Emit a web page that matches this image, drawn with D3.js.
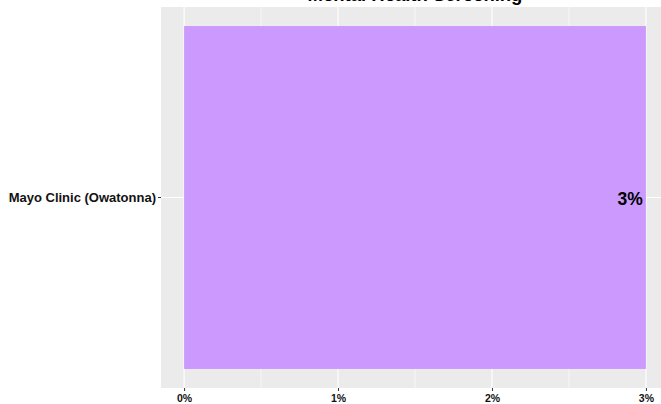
<!DOCTYPE html>
<html lang="en">
<head>
<meta charset="UTF-8">
<title>Mental Health Screening</title>
<script src="https://d3js.org/d3.v7.min.js"></script>
<style>
  body { margin: 0; background: #fff; }
  svg { display: block; font-family: "Liberation Sans", Arial, sans-serif; }
</style>
</head>
<body>
<svg id="chart" width="661" height="404"></svg>
<script>
  // data
  const categories = ["Mayo Clinic (Owatonna)"];
  const values = [3];
  const valueLabels = ["3%"];
  const tickValues = [0, 1, 2, 3];
  const minorTicks = [0.5, 1.5, 2.5];
  const title = "Mental Health Screening";

  const margin = { top: 7, left: 161, bottom: 16 };
  const svg = d3.select("#chart");
  const H = 404;

  // panel extends past right edge like the original (ggplot 5% expansion)
  const x = d3.scaleLinear()
    .domain([-0.15, 3.15])
    .range([margin.left, margin.left + 508]);
  const y = d3.scaleBand()
    .domain(categories)
    .range([margin.top, H - margin.bottom])
    .paddingInner(0.1)
    .paddingOuter(0.05);

  const panelTop = margin.top, panelBottom = H - margin.bottom;

  svg.append("rect")
    .attr("x", x.range()[0]).attr("y", panelTop)
    .attr("width", x.range()[1] - x.range()[0]).attr("height", panelBottom - panelTop)
    .attr("fill", "#EBEBEB");

  svg.selectAll(".minor").data(minorTicks).enter().append("line")
    .attr("x1", d => x(d)).attr("x2", d => x(d))
    .attr("y1", panelTop).attr("y2", panelBottom)
    .attr("stroke", "#fff").attr("stroke-width", 0.6);

  svg.selectAll(".major").data(tickValues).enter().append("line")
    .attr("x1", d => x(d)).attr("x2", d => x(d))
    .attr("y1", panelTop).attr("y2", panelBottom)
    .attr("stroke", "#fff").attr("stroke-width", 1.1);

  svg.selectAll(".hgrid").data(categories).enter().append("line")
    .attr("x1", x.range()[0]).attr("x2", x.range()[1])
    .attr("y1", d => y(d) + y.bandwidth() / 2).attr("y2", d => y(d) + y.bandwidth() / 2)
    .attr("stroke", "#fff").attr("stroke-width", 1.1);

  svg.selectAll(".bar").data(values).enter().append("rect")
    .attr("x", x(0))
    .attr("y", (d, i) => y(categories[i]))
    .attr("width", d => x(d) - x(0))
    .attr("height", y.bandwidth())
    .attr("fill", "#CC99FF");

  svg.selectAll(".vlabel").data(values).enter().append("text")
    .attr("x", d => x(d) - 3)
    .attr("y", (d, i) => y(categories[i]) + y.bandwidth() / 2 + 1)
    .attr("dy", "0.35em")
    .attr("text-anchor", "end")
    .attr("font-weight", "bold")
    .attr("font-size", 17.5)
    .attr("fill", "#000")
    .text((d, i) => valueLabels[i]);

  // x axis
  const xAxis = svg.append("g")
    .attr("transform", `translate(0,${panelBottom})`)
    .call(d3.axisBottom(x).tickValues(tickValues).tickFormat(d => d + "%").tickSize(3).tickPadding(4));
  xAxis.select(".domain").remove();
  xAxis.selectAll("line").attr("stroke", "#333");
  xAxis.selectAll("text").attr("font-size", 10.5).attr("font-weight", "bold").attr("fill", "#111")
    .attr("font-family", "Liberation Sans, Arial, sans-serif");

  // y axis
  const yAxis = svg.append("g")
    .attr("transform", `translate(${margin.left},0)`)
    .call(d3.axisLeft(y).tickSize(3).tickPadding(2));
  yAxis.select(".domain").remove();
  yAxis.selectAll("line").attr("stroke", "#333");
  yAxis.selectAll("text").attr("font-size", 13).attr("font-weight", "bold").attr("fill", "#111")
    .attr("font-family", "Liberation Sans, Arial, sans-serif");

  svg.append("text")
    .attr("x", (x.range()[0] + x.range()[1]) / 2)
    .attr("y", 1)
    .attr("text-anchor", "middle")
    .attr("font-weight", "bold")
    .attr("font-size", 18.5)
    .attr("fill", "#000")
    .text(title);
</script>
</body>
</html>
